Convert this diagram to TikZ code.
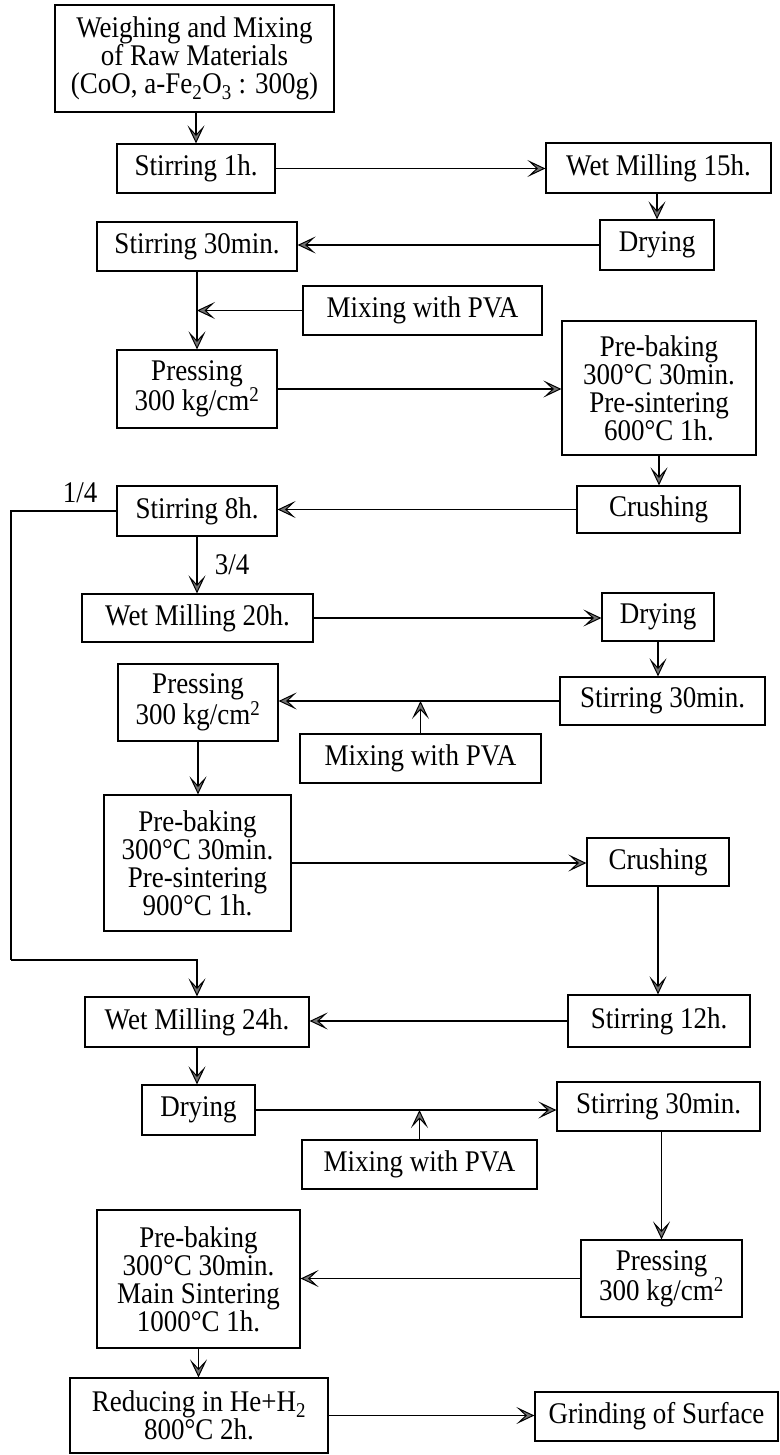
\documentclass[tikz,border=0pt]{standalone}
\usepackage{fontspec}
\setmainfont[FakeStretch=0.9]{Liberation Serif}
\usetikzlibrary{arrows.meta}
\tikzset{
  box/.style={draw, line width=1.2pt, align=center, inner sep=0pt,
    font=\fontsize{30}{28}\selectfont},
  lbl/.style={inner sep=0pt, font=\fontsize{30}{28}\selectfont},
  conn/.style={line width=1.1pt},
  arr/.style={line width=1.1pt, -{Stealth[length=18pt,width=17pt,inset=9pt,fill=black!55,line width=1pt]}}
}
\begin{document}
\begin{tikzpicture}[x=1pt,y=-1pt]
\useasboundingbox (0,0) rectangle (779,1455);
% boxes
\node[box, minimum width=279pt, minimum height=107pt] (raw) at (194.5,58.5)
  {Weighing and Mixing\\of Raw Materials\\(CoO, a-Fe\textsubscript{2}O\textsubscript{3} : 300g)};
\node[box, minimum width=158pt, minimum height=49pt] (s1) at (196,168.5) {Stirring 1h.};
\node[box, minimum width=225pt, minimum height=50pt] (wm15) at (658.5,168) {Wet Milling 15h.};
\node[box, minimum width=114pt, minimum height=50pt] (dry1) at (657,245) {Drying};
\node[box, minimum width=200pt, minimum height=49pt] (s30a) at (197,246.5) {Stirring 30min.};
\node[box, minimum width=239pt, minimum height=49pt] (pva1) at (422.5,310.5) {Mixing with PVA};
\node[box, minimum width=160pt, minimum height=78pt] (pr1) at (197,389) {Pressing\\300 kg/cm\textsuperscript{2}};
\node[box, minimum width=194pt, minimum height=134pt] (pb1) at (659,388)
  {Pre-baking\\300°C 30min.\\Pre-sintering\\600°C 1h.};
\node[box, minimum width=163pt, minimum height=47pt] (cr1) at (658.5,509.5) {Crushing};
\node[box, minimum width=160pt, minimum height=50pt] (s8) at (197,511) {Stirring 8h.};
\node[box, minimum width=231pt, minimum height=48pt] (wm20) at (197.5,618) {Wet Milling 20h.};
\node[box, minimum width=112pt, minimum height=48pt] (dry2) at (658,617) {Drying};
\node[box, minimum width=205pt, minimum height=48pt] (s30b) at (662.5,701) {Stirring 30min.};
\node[box, minimum width=160pt, minimum height=77pt] (pr2) at (198,702.5) {Pressing\\300 kg/cm\textsuperscript{2}};
\node[box, minimum width=241pt, minimum height=49pt] (pva2) at (420.5,758.5) {Mixing with PVA};
\node[box, minimum width=187pt, minimum height=136pt] (pb2) at (197.5,863)
  {Pre-baking\\300°C 30min.\\Pre-sintering\\900°C 1h.};
\node[box, minimum width=142pt, minimum height=48pt] (cr2) at (658,862) {Crushing};
\node[box, minimum width=182pt, minimum height=52pt] (s12) at (659,1021) {Stirring 12h.};
\node[box, minimum width=224pt, minimum height=50pt] (wm24) at (197,1022) {Wet Milling 24h.};
\node[box, minimum width=113pt, minimum height=50pt] (dry3) at (198.5,1110) {Drying};
\node[box, minimum width=203pt, minimum height=49pt] (s30c) at (658.5,1106.5) {Stirring 30min.};
\node[box, minimum width=235pt, minimum height=49pt] (pva3) at (419.5,1164.5) {Mixing with PVA};
\node[box, minimum width=161pt, minimum height=77pt] (pr3) at (661.5,1278.5) {Pressing\\300 kg/cm\textsuperscript{2}};
\node[box, minimum width=203pt, minimum height=138pt] (pb3) at (198.5,1279)
  {Pre-baking\\300°C 30min.\\Main Sintering\\1000°C 1h.};
\node[box, minimum width=258pt, minimum height=75pt] (red) at (199,1415.5)
  {Reducing in He+H\textsubscript{2}\\800°C 2h.};
\node[box, minimum width=243pt, minimum height=49pt] (grind) at (656.5,1416.5) {Grinding of Surface};
% labels
\node[lbl] (q1) at (80,493) {1/4};
\node[lbl] (q3) at (232,565) {3/4};
% loop coordinates
\coordinate (lt) at (11,511);
\coordinate (lb) at (11,960);
% connectors
\draw[arr] (raw.south -| s1.north) -- (s1.north);
\draw[arr] (s1.east) -- (wm15.west |- s1.east);
\draw[arr] (dry1.north |- wm15.south) -- (dry1.north);
\draw[arr] (dry1.west) -- (s30a.east |- dry1.west);
\draw[arr] (s30a.south) -- (pr1.north);
\draw[arr] (pva1.west) -- (pva1.west -| s30a.south);
\draw[arr] (pr1.east) -- (pb1.west |- pr1.east);
\draw[arr] (pb1.south) -- (cr1.north -| pb1.south);
\draw[arr] (cr1.west) -- (s8.east |- cr1.west);
\draw[arr] (s8.south) -- (wm20.north -| s8.south);
\draw[conn] (s8.west) -- (lt) -- (lb);
\draw[arr] (lb) -| (wm24.north);
\draw[arr] (wm20.east) -- (dry2.west |- wm20.east);
\draw[arr] (dry2.south) -- (dry2.south |- s30b.north);
\draw[arr] (s30b.west) -- (pr2.east |- s30b.west);
\draw[arr] (pva2.north) -- (pva2.north |- s30b.west);
\draw[arr] (pr2.south) -- (pb2.north -| pr2.south);
\draw[arr] (pb2.east) -- (cr2.west |- pb2.east);
\draw[arr] (cr2.south) -- (s12.north -| cr2.south);
\draw[arr] (s12.west) -- (wm24.east |- s12.west);
\draw[arr] (wm24.south) -- (dry3.north -| wm24.south);
\draw[arr] (dry3.east) -- (dry3.east -| s30c.west);
\draw[arr] (pva3.north) -- (pva3.north |- dry3.east);
\draw[arr] (s30c.south -| pr3.north) -- (pr3.north);
\draw[arr] (pr3.west) -- (pb3.east |- pr3.west);
\draw[arr] (pb3.south) -- (red.north -| pb3.south);
\draw[arr] (red.east) -- (grind.west |- red.east);
\end{tikzpicture}
\end{document}
